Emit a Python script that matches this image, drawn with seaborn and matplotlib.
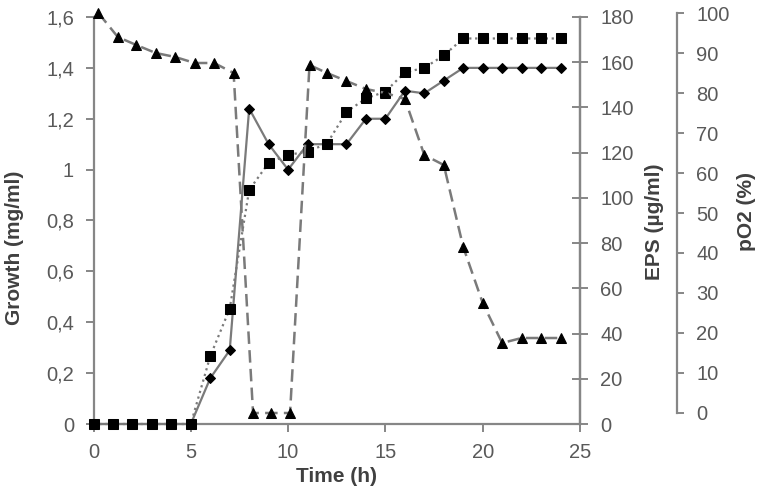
import matplotlib
matplotlib.use("Agg")
import matplotlib.pyplot as plt
import seaborn as sns

# sampling times (h)
time_h = list(range(25))

# growth (mg/ml), diamonds, solid line
growth = [0, 0, 0, 0, 0, 0, 0.18, 0.29, 1.24, 1.10, 1.00, 1.10, 1.10,
          1.10, 1.20, 1.20, 1.31, 1.30, 1.35, 1.40, 1.40, 1.40, 1.40, 1.40, 1.40]

# EPS (ug/ml), squares, dotted line
eps = [0, 0, 0, 0, 0, 0, 30, 51, 103.5, 115.5, 119, 120.5, 124,
       138, 144, 147, 155.5, 157.5, 163, 170.5, 170.5, 170.5, 170.5, 170.5, 170.5]

# dissolved oxygen pO2 (%), triangles, dashed line
po2_time = [0.25, 1.25, 2.2, 3.2, 4.2, 5.2, 6.2, 7.2, 8.2, 9.1, 10.1, 11.1, 12,
            13, 14, 15, 16, 17, 18, 19, 20, 21, 22, 23, 24]
po2 = [100, 94, 92, 90, 89, 87.5, 87.5, 85, 0, 0, 0, 87, 85,
       83, 81, 80, 78.5, 64.5, 62, 41.5, 27.5, 17.5, 18.75, 18.75, 18.75]

growth_ticks = [0, 0.2, 0.4, 0.6, 0.8, 1.0, 1.2, 1.4, 1.6]
growth_ticklabels = ["0", "0,2", "0,4", "0,6", "0,8", "1", "1,2", "1,4", "1,6"]
eps_ticks = [0, 20, 40, 60, 80, 100, 120, 140, 160, 180]
po2_ticks = [0, 10, 20, 30, 40, 50, 60, 70, 80, 90, 100]
time_ticks = [0, 5, 10, 15, 20, 25]

sns.set_theme(style="white")
plt.rcParams["font.family"] = ["Liberation Sans", "DejaVu Sans"]

axis_grey = "#868686"
tick_grey = "#595959"
label_col = "#404040"
line_grey = "#7a7a7a"
fs_tick = 14.5
fs_lab = 15

W, H = 760, 494
fig = plt.figure(figsize=(7.6, 4.94), dpi=100)
ax = fig.add_axes([93.5 / W, 1 - 424 / H, 486.5 / W, 407 / H])
ax2 = ax.twinx()
ax3 = fig.add_axes([93.5 / W, 1 - 413 / H, 486.5 / W, 400 / H])

# growth
sns.lineplot(x=time_h, y=growth, ax=ax, color=line_grey, lw=1.6, linestyle="-",
             marker="D", markersize=5.5, markerfacecolor="black",
             markeredgecolor="black", clip_on=False, zorder=3)
# EPS
sns.lineplot(x=time_h, y=eps, ax=ax2, color=line_grey, lw=1.6, linestyle=":",
             marker="s", markersize=7.5, markerfacecolor="black",
             markeredgecolor="black", clip_on=False, zorder=3)
# pO2
sns.lineplot(x=po2_time, y=po2, ax=ax3, color=line_grey, lw=1.8, dashes=(5, 2.5),
             marker="^", markersize=7.5, markerfacecolor="black",
             markeredgecolor="black", clip_on=False, zorder=3)

for a in (ax, ax2, ax3):
    a.set_xlim(0, 25)
    a.grid(False)
    a.patch.set_visible(False)
    for s in a.spines.values():
        s.set_color(axis_grey)
        s.set_linewidth(1.6)

ax.set_ylim(0, 1.6)
ax2.set_ylim(0, 180)
ax3.set_ylim(0, 100)

# main axes
ax.spines["top"].set_visible(False)
ax.set_xticks(time_ticks)
ax.set_xticklabels([str(t) for t in time_ticks])
ax.set_yticks(growth_ticks)
ax.set_yticklabels(growth_ticklabels)
ax.tick_params(axis="both", which="both", direction="out", length=6, width=1.4,
               color=axis_grey, labelcolor=tick_grey, labelsize=fs_tick, pad=8)
ax.tick_params(axis="y", left=True)
ax.tick_params(axis="x", bottom=True)

# EPS axis (right spine of main)
ax2.spines["top"].set_visible(False)
ax2.spines["left"].set_visible(False)
ax2.spines["bottom"].set_visible(False)
ax2.set_yticks(eps_ticks)
ax2.set_yticklabels([str(v) for v in eps_ticks])
ax2.tick_params(axis="y", right=True, direction="inout", length=11, width=1.4,
                color=axis_grey, labelcolor=tick_grey, labelsize=fs_tick, pad=9)

# pO2 axis, offset to the right
for side in ("top", "left", "bottom"):
    ax3.spines[side].set_visible(False)
ax3.spines["right"].set_position(("axes", 583.5 / 486.5))
ax3.yaxis.set_ticks_position("right")
ax3.yaxis.set_label_position("right")
ax3.set_xticks([])
ax3.set_yticks(po2_ticks)
ax3.set_yticklabels([str(v) for v in po2_ticks])
ax3.tick_params(axis="y", right=True, direction="out", length=5, width=1.4,
                color=axis_grey, labelcolor=tick_grey, labelsize=fs_tick, pad=9)

ax.set_xlabel("Time (h)", fontsize=fs_lab, fontweight="bold", color=label_col, va="center")
ax.xaxis.set_label_coords(0.5, (424 - 476) / 407)
ax.set_ylabel("Growth (mg/ml)", fontsize=fs_lab, fontweight="bold", color=label_col, va="center")
ax.yaxis.set_label_coords((15 - 93.5) / 486.5, (424 - 248) / 407)
ax2.set_ylabel("EPS (µg/ml)", fontsize=fs_lab, fontweight="bold", color=label_col, va="center")
ax2.yaxis.set_label_coords((655 - 93.5) / 486.5, (424 - 222) / 407)
ax3.set_ylabel("pO2 (%)", fontsize=fs_lab, fontweight="bold", color=label_col, va="center")
ax3.yaxis.set_label_coords((747 - 93.5) / 486.5, (413 - 211) / 400)

fig.savefig("out.png", dpi=100)
